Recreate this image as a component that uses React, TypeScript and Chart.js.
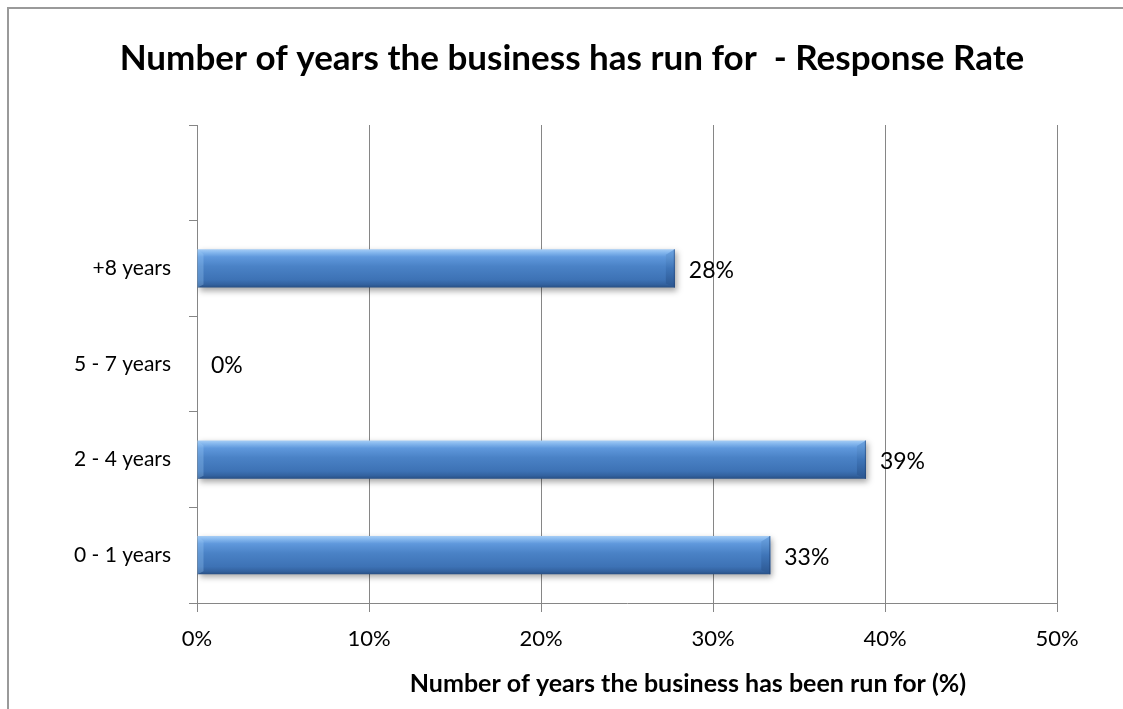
import { useEffect, useRef } from 'react';
import { Chart, registerables } from 'chart.js';

Chart.register(...registerables);

// Categories from top to bottom (the top slot is left empty)
const categories = ['', '+8 years', '5 - 7 years', '2 - 4 years', '0 - 1 years'];
// Share of responses per category, in percent
const responseRates: (number | null)[] = [null, 27.78, 0, 38.89, 33.33];
const axisMin = 0;
const axisMax = 50;
const axisStep = 10;

const chartTitle = 'Number of years the business has run for  - Response Rate';
const xAxisTitle = 'Number of years the business has been run for (%)';

const FONT = 'Lato';
const LINE = '#868686';
const BAR_PCT = 0.4;

const W = 1123;
const H = 709;

function barGradient(ctx: CanvasRenderingContext2D, top: number, bottom: number) {
  const g = ctx.createLinearGradient(0, top, 0, bottom);
  g.addColorStop(0, '#a6cdf5');
  g.addColorStop(0.08, '#86b8ee');
  g.addColorStop(0.2, '#5f98dc');
  g.addColorStop(0.45, '#4a82c6');
  g.addColorStop(0.8, '#3d72b5');
  g.addColorStop(0.92, '#33629f');
  g.addColorStop(1, '#284f84');
  return g;
}

// Outer frame (top and left edges) plus the chart and axis titles
const decorPlugin = {
  id: 'decor',
  afterDraw(chart: any) {
    const ctx = chart.ctx as CanvasRenderingContext2D;
    ctx.save();
    ctx.strokeStyle = '#9a9a9a';
    ctx.lineWidth = 2;
    ctx.beginPath();
    ctx.moveTo(W, 8);
    ctx.lineTo(8, 8);
    ctx.lineTo(8, H);
    ctx.stroke();

    ctx.fillStyle = '#000';
    ctx.textAlign = 'center';
    ctx.textBaseline = 'alphabetic';
    ctx.font = `bold 35px ${FONT}`;
    ctx.fillText(chartTitle, 572, 70);
    ctx.font = `bold 25px ${FONT}`;
    ctx.fillText(xAxisTitle, 688, 692);
    ctx.restore();
  },
};

const barStylePlugin = {
  id: 'barStyle',
  beforeDatasetDraw(chart: any) {
    const ctx = chart.ctx as CanvasRenderingContext2D;
    ctx.save();
    ctx.shadowColor = 'rgba(0,0,0,0.35)';
    ctx.shadowBlur = 6;
    ctx.shadowOffsetX = 2;
    ctx.shadowOffsetY = 3;
  },
  afterDatasetDraw(chart: any) {
    chart.ctx.restore();
  },
  afterDatasetsDraw(chart: any) {
    const ctx = chart.ctx as CanvasRenderingContext2D;
    const meta = chart.getDatasetMeta(0);
    ctx.save();
    meta.data.forEach((el: any, i: number) => {
      const v = responseRates[i];
      if (v === null || v === undefined) return;
      const top = el.y - el.height / 2;
      const bottom = el.y + el.height / 2;
      const x0 = el.base;
      const x1 = el.x;
      const len = x1 - x0;
      if (len > 12) {
        const b = 9;
        // right end facet
        const g = ctx.createLinearGradient(0, top, 0, bottom);
        g.addColorStop(0, '#6fa6e3');
        g.addColorStop(0.5, '#3f75b8');
        g.addColorStop(1, '#2b5690');
        ctx.fillStyle = g;
        ctx.beginPath();
        ctx.moveTo(x1 - b, top + b * 0.6);
        ctx.lineTo(x1, top);
        ctx.lineTo(x1, bottom);
        ctx.lineTo(x1 - b, bottom - 4);
        ctx.closePath();
        ctx.fill();
        ctx.strokeStyle = 'rgba(30,60,110,0.55)';
        ctx.lineWidth = 1;
        ctx.beginPath();
        ctx.moveTo(x1 - 0.5, top);
        ctx.lineTo(x1 - 0.5, bottom);
        ctx.stroke();
        // left end facet
        ctx.fillStyle = 'rgba(160,205,250,0.3)';
        ctx.beginPath();
        ctx.moveTo(x0, top);
        ctx.lineTo(x0 + 6, top + 5);
        ctx.lineTo(x0 + 6, bottom - 3);
        ctx.lineTo(x0, bottom);
        ctx.closePath();
        ctx.fill();
      }
      // value label
      ctx.font = `23px ${FONT}`;
      ctx.fillStyle = '#000';
      ctx.textAlign = 'left';
      ctx.textBaseline = 'middle';
      ctx.fillText(`${Math.round(v)}%`, x1 + 14, el.y + 2);
    });
    ctx.restore();
  },
};

export default function App() {
  const canvasRef = useRef<HTMLCanvasElement | null>(null);

  useEffect(() => {
    const canvas = canvasRef.current;
    if (!canvas) return;
    const chart = new Chart(canvas, {
      type: 'bar',
      data: {
        labels: categories,
        datasets: [
          {
            data: responseRates,
            barPercentage: BAR_PCT,
            categoryPercentage: 1,
            borderWidth: 0,
            backgroundColor: (c: any) => {
              const ch = c.chart;
              if (!ch.chartArea || c.type !== 'data') return '#4a82c6';
              const y = ch.scales.y;
              const cy = y.getPixelForValue(c.dataIndex);
              const half = ((ch.chartArea.bottom - ch.chartArea.top) / categories.length) * BAR_PCT / 2;
              return barGradient(ch.ctx, cy - half, cy + half);
            },
          },
        ],
      },
      options: {
        indexAxis: 'y',
        responsive: false,
        animation: false,
        devicePixelRatio: 1,
        layout: { padding: { left: 0, right: 66, top: 125, bottom: 0 } },
        plugins: {
          legend: { display: false },
          tooltip: { enabled: false },
          title: { display: false },
        },
        scales: {
          x: {
            min: axisMin,
            max: axisMax,
            grid: { color: LINE, tickLength: 9, tickColor: LINE },
            border: { color: LINE },
            ticks: {
              stepSize: axisStep,
              padding: 14,
              color: '#000',
              font: { family: FONT, size: 22 },
              callback: (v: any) => `${v}%`,
            },
            afterFit: (s: any) => {
              s.height = H - 603;
            },
          },
          y: {
            grid: { drawOnChartArea: false, tickLength: 8, color: LINE, offset: true },
            border: { color: LINE },
            ticks: {
              padding: 18,
              color: '#000',
              font: { family: FONT, size: 21 },
            },
            afterFit: (s: any) => {
              s.width = 197;
            },
          },
        },
      },
      plugins: [barStylePlugin, decorPlugin],
    } as any);
    return () => chart.destroy();
  }, []);

  return (
    <div style={{ position: 'absolute', left: 0, top: 0, width: W, height: H, background: '#fff' }}>
      <canvas ref={canvasRef} width={W} height={H} style={{ display: 'block' }} />
    </div>
  );
}
